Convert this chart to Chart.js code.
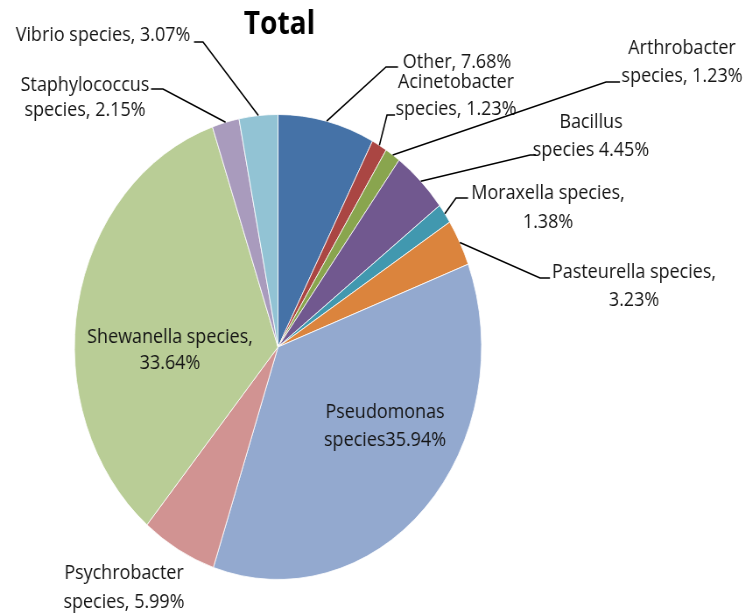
<!DOCTYPE html>
<html>
<head>
<meta charset="utf-8">
<script src="https://cdn.jsdelivr.net/npm/chart.js@4/dist/chart.umd.min.js"></script>
<style>
  html, body { margin: 0; padding: 0; background: #fff; overflow: hidden; }
  /* the drawing is squeezed horizontally, giving the tall oval pie */
  #wrap { width: 852px; height: 616px; transform: scaleX(0.8755); transform-origin: 0 0; }
</style>
</head>
<body>
<div id="wrap"><canvas id="c" width="852" height="616"></canvas></div>
<script>
// ---- data ----
const categories = [
  'Other', 'Acinetobacter species', 'Arthrobacter species', 'Bacillus species',
  'Moraxella species', 'Pasteurella species', 'Pseudomonas species',
  'Psychrobacter species', 'Shewanella species', 'Staphylococcus species', 'Vibrio species'
];
const shares = [7.68, 1.23, 1.23, 4.45, 1.38, 3.23, 35.94, 5.99, 33.64, 2.15, 3.07];
const sliceColors = [
  '#4572A7', '#AA4643', '#89A54E', '#71588F', '#4198AF', '#DB843D',
  '#93A9CF', '#D19392', '#B9CD96', '#A99BBD', '#92C3D4'
];
// label text per slice; {v} is filled with the slice's share
const labelText = [
  ['Other, {v}'],
  ['Acinetobacter', 'species, {v}'],
  ['Arthrobacter', 'species, {v}'],
  ['Bacillus', 'species {v}'],
  ['Moraxella species,', '{v}'],
  ['Pasteurella species,', '{v}'],
  ['Pseudomonas', 'species{v}'],
  ['Psychrobacter', 'species, {v}'],
  ['Shewanella species,', '{v}'],
  ['Staphylococcus', 'species, {v}'],
  ['Vibrio species, {v}']
];
const chartTitle = 'Total';

// ---- layout (page pixels) ----
const SX = 0.8755;          // horizontal squeeze
const CW = 852, CH = 616;   // canvas size before squeeze
const CX = 278 / SX, CY = 347, R = 233;

// label block centre x, line centre y's, optional leader elbow + tick end
const placement = [
  { x: 457, ys: [62],       elbow: [386, 67],  tick: 398 },
  { x: 456, ys: [82, 109],  elbow: [387, 115], tick: 395 },
  { x: 682, ys: [48, 76],   elbow: [606, 82],  tick: 620 },
  { x: 591, ys: [122, 150], elbow: [530, 155], tick: 536 },
  { x: 548, ys: [193, 222], elbow: [456, 198], tick: 468 },
  { x: 634, ys: [272, 300], elbow: [540, 278], tick: 550 },
  { x: 385, ys: [412, 440] },
  { x: 124, ys: [573, 602] },
  { x: 170, ys: [337, 363] },
  { x: 85,  ys: [85, 110],  elbow: [163, 89],  tick: 151 },
  { x: 103, ys: [35],       elbow: [203, 42],  tick: 194 }
];

const labelPlugin = {
  id: 'sliceLabels',
  afterDatasetsDraw(chart) {
    const ctx = chart.ctx;
    const arcs = chart.getDatasetMeta(0).data;
    ctx.save();
    // title
    ctx.fillStyle = '#000';
    ctx.textAlign = 'center';
    ctx.textBaseline = 'middle';
    ctx.font = 'bold 32px "Open Sans"';
    ctx.fillText(chartTitle, 279.5 / SX, 25);

    ctx.font = '20.5px "Open Sans"';
    ctx.fillStyle = '#151515';
    ctx.strokeStyle = '#000';
    ctx.lineWidth = 1.6;
    labelText.forEach((tpl, i) => {
      const p = placement[i];
      const v = shares[i].toFixed(2) + '%';
      tpl.forEach((line, k) => ctx.fillText(line.replace('{v}', v), p.x / SX, p.ys[k]));
      if (p.elbow) {
        const a = arcs[i].getProps(['x', 'y', 'startAngle', 'endAngle', 'outerRadius'], true);
        const mid = (a.startAngle + a.endAngle) / 2;
        const rx = a.x + Math.cos(mid) * a.outerRadius;
        const ry = a.y + Math.sin(mid) * a.outerRadius;
        ctx.beginPath();
        ctx.moveTo(rx, ry);
        ctx.lineTo(p.elbow[0] / SX, p.elbow[1]);
        ctx.lineTo(p.tick / SX, p.elbow[1]);
        ctx.stroke();
      }
    });
    ctx.restore();
  }
};

new Chart(document.getElementById('c'), {
  type: 'pie',
  data: {
    labels: categories,
    datasets: [{
      data: shares,
      backgroundColor: sliceColors,
      borderColor: 'rgba(255,255,255,0.8)',
      borderWidth: 1
    }]
  },
  options: {
    responsive: false,
    animation: false,
    events: [],
    layout: {
      padding: { top: CY - R, bottom: CH - CY - R, left: CX - R, right: CW - CX - R }
    },
    plugins: {
      legend: { display: false },
      tooltip: { enabled: false },
      title: { display: false }
    }
  },
  plugins: [labelPlugin]
});
</script>
</body>
</html>
